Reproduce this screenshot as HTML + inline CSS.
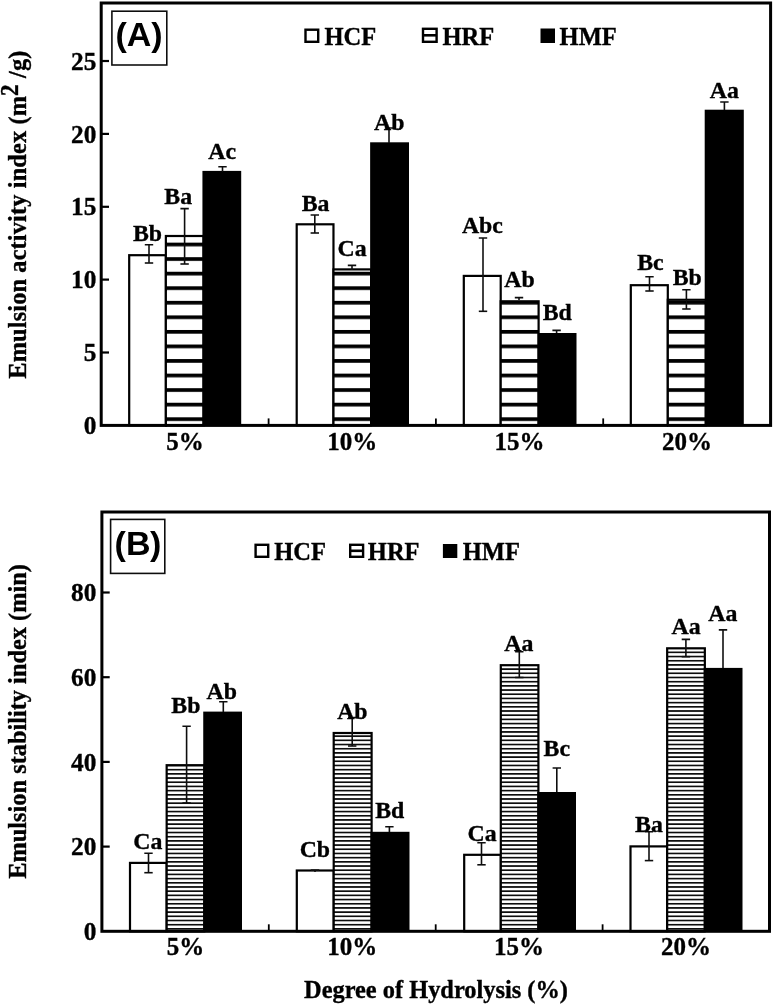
<!DOCTYPE html>
<html><head><meta charset="utf-8"><title>Emulsion indices</title>
<style>html,body{margin:0;padding:0;background:#fff}svg{display:block}text{fill:#000}</style>
</head><body>
<svg width="774" height="1005" viewBox="0 0 774 1005">
<defs>
<pattern id="pa" patternUnits="userSpaceOnUse" x="0" y="417.30" width="40" height="14.555"><rect width="40" height="14.555" fill="#fff"/><rect width="40" height="3.7" fill="#000"/></pattern>
<pattern id="pb" patternUnits="userSpaceOnUse" x="0" y="923.85" width="40" height="4.19"><rect width="40" height="4.19" fill="#fff"/><rect width="40" height="1.7" fill="#111"/></pattern>
<filter id="soft" x="0" y="0" width="100%" height="100%" filterUnits="userSpaceOnUse"><feGaussianBlur stdDeviation="0.45"/></filter>
</defs>
<g filter="url(#soft)">
<rect width="774" height="1005" fill="#fff"/>
<rect x="129.20" y="255.20" width="36.67" height="170.20" fill="#fff" stroke="#000" stroke-width="2.2"/>
<rect x="165.87" y="236.00" width="37.67" height="189.40" fill="url(#pa)" stroke="#000" stroke-width="2.2"/>
<rect x="202.43" y="170.90" width="38.77" height="254.50" fill="#000"/>
<rect x="296.70" y="224.30" width="36.77" height="201.10" fill="#fff" stroke="#000" stroke-width="2.2"/>
<rect x="333.47" y="269.40" width="37.77" height="156.00" fill="url(#pa)" stroke="#000" stroke-width="2.2"/>
<rect x="370.13" y="142.30" width="38.87" height="283.10" fill="#000"/>
<rect x="463.80" y="275.90" width="36.90" height="149.50" fill="#fff" stroke="#000" stroke-width="2.2"/>
<rect x="500.70" y="301.30" width="37.90" height="124.10" fill="url(#pa)" stroke="#000" stroke-width="2.2"/>
<rect x="537.50" y="333.00" width="39.00" height="92.40" fill="#000"/>
<rect x="630.80" y="285.20" width="37.00" height="140.20" fill="#fff" stroke="#000" stroke-width="2.2"/>
<rect x="667.80" y="299.80" width="38.00" height="125.60" fill="url(#pa)" stroke="#000" stroke-width="2.2"/>
<rect x="704.70" y="109.70" width="39.10" height="315.70" fill="#000"/>
<path d="M149.0 244.8V263.0M144.8 244.8H153.2" stroke="#111" stroke-width="1.6" fill="none"/>
<path d="M144.8 263.0H153.2" stroke="#111" stroke-width="1.6" fill="none"/>
<path d="M184.6 208.6V264.0M180.4 208.6H188.8" stroke="#111" stroke-width="1.6" fill="none"/>
<path d="M180.4 264.0H188.8" stroke="#111" stroke-width="1.6" fill="none"/>
<path d="M222.5 166.8V172.0M218.3 166.8H226.7" stroke="#111" stroke-width="1.6" fill="none"/>
<path d="M314.8 215.0V233.0M310.6 215.0H319.0" stroke="#111" stroke-width="1.6" fill="none"/>
<path d="M310.6 233.0H319.0" stroke="#111" stroke-width="1.6" fill="none"/>
<path d="M352.0 265.4V269.8M347.8 265.4H356.2" stroke="#111" stroke-width="1.6" fill="none"/>
<path d="M389.0 128.0V143.0M384.8 128.0H393.2" stroke="#111" stroke-width="1.6" fill="none"/>
<path d="M483.0 238.0V311.3M478.8 238.0H487.2" stroke="#111" stroke-width="1.6" fill="none"/>
<path d="M478.8 311.3H487.2" stroke="#111" stroke-width="1.6" fill="none"/>
<path d="M519.0 297.6V300.0M514.8 297.6H523.2" stroke="#111" stroke-width="1.6" fill="none"/>
<path d="M556.6 330.4V333.0M552.4 330.4H560.8" stroke="#111" stroke-width="1.6" fill="none"/>
<path d="M649.5 276.7V291.0M645.3 276.7H653.7" stroke="#111" stroke-width="1.6" fill="none"/>
<path d="M645.3 291.0H653.7" stroke="#111" stroke-width="1.6" fill="none"/>
<path d="M686.4 289.7V309.0M682.2 289.7H690.6" stroke="#111" stroke-width="1.6" fill="none"/>
<path d="M682.2 309.0H690.6" stroke="#111" stroke-width="1.6" fill="none"/>
<path d="M724.4 102.0V110.0M720.2 102.0H728.6" stroke="#111" stroke-width="1.6" fill="none"/>
<rect x="101.2" y="3" width="669.4" height="422.4" fill="none" stroke="#000" stroke-width="3"/>
<text x="96.3" y="434.0" font-size="25.3" text-anchor="end" font-family="Liberation Serif" font-weight="bold" stroke="#000" stroke-width="0.35" >0</text>
<path d="M101.2 352.5h7.8" stroke="#000" stroke-width="2.2"/>
<text x="96.3" y="361.1" font-size="25.3" text-anchor="end" font-family="Liberation Serif" font-weight="bold" stroke="#000" stroke-width="0.35" >5</text>
<path d="M101.2 279.6h7.8" stroke="#000" stroke-width="2.2"/>
<text x="96.3" y="288.2" font-size="25.3" text-anchor="end" font-family="Liberation Serif" font-weight="bold" stroke="#000" stroke-width="0.35" >10</text>
<path d="M101.2 206.8h7.8" stroke="#000" stroke-width="2.2"/>
<text x="96.3" y="215.4" font-size="25.3" text-anchor="end" font-family="Liberation Serif" font-weight="bold" stroke="#000" stroke-width="0.35" >15</text>
<path d="M101.2 133.9h7.8" stroke="#000" stroke-width="2.2"/>
<text x="96.3" y="142.5" font-size="25.3" text-anchor="end" font-family="Liberation Serif" font-weight="bold" stroke="#000" stroke-width="0.35" >20</text>
<path d="M101.2 61.0h7.8" stroke="#000" stroke-width="2.2"/>
<text x="96.3" y="69.6" font-size="25.3" text-anchor="end" font-family="Liberation Serif" font-weight="bold" stroke="#000" stroke-width="0.35" >25</text>
<path d="M268.6 425.4v-7" stroke="#000" stroke-width="1.8"/>
<path d="M435.9 425.4v-7" stroke="#000" stroke-width="1.8"/>
<path d="M603.2 425.4v-7" stroke="#000" stroke-width="1.8"/>
<text x="184.9" y="449.8" font-size="25" text-anchor="middle" font-family="Liberation Serif" font-weight="bold" stroke="#000" stroke-width="0.35" >5%</text>
<text x="352.2" y="449.8" font-size="25" text-anchor="middle" font-family="Liberation Serif" font-weight="bold" stroke="#000" stroke-width="0.35" >10%</text>
<text x="519.6" y="449.8" font-size="25" text-anchor="middle" font-family="Liberation Serif" font-weight="bold" stroke="#000" stroke-width="0.35" >15%</text>
<text x="686.9" y="449.8" font-size="25" text-anchor="middle" font-family="Liberation Serif" font-weight="bold" stroke="#000" stroke-width="0.35" >20%</text>
<text x="147.5" y="241.2" font-size="23.8" text-anchor="middle" font-family="Liberation Serif" font-weight="bold" stroke="#000" stroke-width="0.35" >Bb</text>
<text x="178.2" y="204.3" font-size="23.8" text-anchor="middle" font-family="Liberation Serif" font-weight="bold" stroke="#000" stroke-width="0.35" >Ba</text>
<text x="222.1" y="159.4" font-size="23.8" text-anchor="middle" font-family="Liberation Serif" font-weight="bold" stroke="#000" stroke-width="0.35" >Ac</text>
<text x="315.6" y="210.6" font-size="23.8" text-anchor="middle" font-family="Liberation Serif" font-weight="bold" stroke="#000" stroke-width="0.35" >Ba</text>
<text x="352.0" y="256.0" font-size="23.8" text-anchor="middle" font-family="Liberation Serif" font-weight="bold" stroke="#000" stroke-width="0.35" >Ca</text>
<text x="389.2" y="130.0" font-size="23.8" text-anchor="middle" font-family="Liberation Serif" font-weight="bold" stroke="#000" stroke-width="0.35" >Ab</text>
<text x="482.4" y="233.0" font-size="23.8" text-anchor="middle" font-family="Liberation Serif" font-weight="bold" stroke="#000" stroke-width="0.35" >Abc</text>
<text x="519.5" y="287.2" font-size="23.8" text-anchor="middle" font-family="Liberation Serif" font-weight="bold" stroke="#000" stroke-width="0.35" >Ab</text>
<text x="557.2" y="320.0" font-size="23.8" text-anchor="middle" font-family="Liberation Serif" font-weight="bold" stroke="#000" stroke-width="0.35" >Bd</text>
<text x="650.4" y="270.3" font-size="23.8" text-anchor="middle" font-family="Liberation Serif" font-weight="bold" stroke="#000" stroke-width="0.35" >Bc</text>
<text x="687.2" y="285.3" font-size="23.8" text-anchor="middle" font-family="Liberation Serif" font-weight="bold" stroke="#000" stroke-width="0.35" >Bb</text>
<text x="724.3" y="98.0" font-size="23.8" text-anchor="middle" font-family="Liberation Serif" font-weight="bold" stroke="#000" stroke-width="0.35" >Aa</text>
<rect x="305.5" y="29.7" width="12.699999999999966" height="12.1" fill="#fff" stroke="#000" stroke-width="2.4"/>
<text x="350.4" y="44.6" font-size="24.5" text-anchor="middle" font-family="Liberation Serif" font-weight="bold" stroke="#000" stroke-width="0.35" >HCF</text>
<rect x="423.0" y="28.8" width="13.6" height="12.999999999999998" fill="#fff" stroke="#000" stroke-width="2.4"/>
<path d="M422.8 35.3H436.8" stroke="#000" stroke-width="2.6"/>
<text x="468.4" y="44.6" font-size="24.5" text-anchor="middle" font-family="Liberation Serif" font-weight="bold" stroke="#000" stroke-width="0.35" >HRF</text>
<rect x="540.5" y="28.5" width="14.5" height="14.5" fill="#000"/>
<text x="588.2" y="44.6" font-size="24.5" text-anchor="middle" font-family="Liberation Serif" font-weight="bold" stroke="#000" stroke-width="0.35" >HMF</text>
<rect x="111.9" y="11.2" width="54.900000000000006" height="53.8" fill="#fff" stroke="#111" stroke-width="1.6"/>
<text x="121.2" y="45.9" font-size="34" text-anchor="middle" font-family="Liberation Sans" font-weight="bold">(</text>
<text x="139.1" y="45.9" font-size="34" text-anchor="middle" font-family="Liberation Sans" font-weight="bold">A</text>
<text x="156.8" y="45.9" font-size="34" text-anchor="middle" font-family="Liberation Sans" font-weight="bold">)</text>
<rect x="130.00" y="862.90" width="36.67" height="68.40" fill="#fff" stroke="#000" stroke-width="2.2"/>
<rect x="166.67" y="765.20" width="37.67" height="166.10" fill="url(#pb)" stroke="#000" stroke-width="2.2"/>
<rect x="203.23" y="711.60" width="38.77" height="219.70" fill="#000"/>
<rect x="296.80" y="870.50" width="36.90" height="60.80" fill="#fff" stroke="#000" stroke-width="2.2"/>
<rect x="333.70" y="733.00" width="37.90" height="198.30" fill="url(#pb)" stroke="#000" stroke-width="2.2"/>
<rect x="370.50" y="831.80" width="39.00" height="99.50" fill="#000"/>
<rect x="464.20" y="854.80" width="36.60" height="76.50" fill="#fff" stroke="#000" stroke-width="2.2"/>
<rect x="500.80" y="665.20" width="37.60" height="266.10" fill="url(#pb)" stroke="#000" stroke-width="2.2"/>
<rect x="537.30" y="792.00" width="38.70" height="139.30" fill="#000"/>
<rect x="630.50" y="846.40" width="36.67" height="84.90" fill="#fff" stroke="#000" stroke-width="2.2"/>
<rect x="667.17" y="648.30" width="37.67" height="283.00" fill="url(#pb)" stroke="#000" stroke-width="2.2"/>
<rect x="703.73" y="667.90" width="38.77" height="263.40" fill="#000"/>
<path d="M148.5 853.3V872.7M144.3 853.3H152.7" stroke="#111" stroke-width="1.6" fill="none"/>
<path d="M144.3 872.7H152.7" stroke="#111" stroke-width="1.6" fill="none"/>
<path d="M186.6 726.2V803.0M182.4 726.2H190.8" stroke="#111" stroke-width="1.6" fill="none"/>
<path d="M182.4 803.0H190.8" stroke="#111" stroke-width="1.6" fill="none"/>
<path d="M223.3 701.7V712.0M219.1 701.7H227.5" stroke="#111" stroke-width="1.6" fill="none"/>
<path d="M315.0 870.0V872.0M310.8 870.0H319.2" stroke="#111" stroke-width="1.6" fill="none"/>
<path d="M352.2 717.5V746.0M348.0 717.5H356.4" stroke="#111" stroke-width="1.6" fill="none"/>
<path d="M348.0 746.0H356.4" stroke="#111" stroke-width="1.6" fill="none"/>
<path d="M389.4 826.8V832.0M385.2 826.8H393.6" stroke="#111" stroke-width="1.6" fill="none"/>
<path d="M481.5 842.8V864.8M477.3 842.8H485.7" stroke="#111" stroke-width="1.6" fill="none"/>
<path d="M477.3 864.8H485.7" stroke="#111" stroke-width="1.6" fill="none"/>
<path d="M519.3 651.7V677.5M515.1 651.7H523.5" stroke="#111" stroke-width="1.6" fill="none"/>
<path d="M515.1 677.5H523.5" stroke="#111" stroke-width="1.6" fill="none"/>
<path d="M556.8 768.0V792.0M552.6 768.0H561.0" stroke="#111" stroke-width="1.6" fill="none"/>
<path d="M649.0 831.7V860.6M644.8 831.7H653.2" stroke="#111" stroke-width="1.6" fill="none"/>
<path d="M644.8 860.6H653.2" stroke="#111" stroke-width="1.6" fill="none"/>
<path d="M685.9 639.4V656.7M681.7 639.4H690.1" stroke="#111" stroke-width="1.6" fill="none"/>
<path d="M681.7 656.7H690.1" stroke="#111" stroke-width="1.6" fill="none"/>
<path d="M723.0 629.9V668.0M718.8 629.9H727.2" stroke="#111" stroke-width="1.6" fill="none"/>
<rect x="101.9" y="512" width="667.6" height="419.29999999999995" fill="none" stroke="#000" stroke-width="3"/>
<text x="96.3" y="939.9" font-size="25.3" text-anchor="end" font-family="Liberation Serif" font-weight="bold" stroke="#000" stroke-width="0.35" >0</text>
<path d="M101.9 846.6h7.8" stroke="#000" stroke-width="2.2"/>
<text x="96.3" y="855.2" font-size="25.3" text-anchor="end" font-family="Liberation Serif" font-weight="bold" stroke="#000" stroke-width="0.35" >20</text>
<path d="M101.9 761.9h7.8" stroke="#000" stroke-width="2.2"/>
<text x="96.3" y="770.5" font-size="25.3" text-anchor="end" font-family="Liberation Serif" font-weight="bold" stroke="#000" stroke-width="0.35" >40</text>
<path d="M101.9 677.2h7.8" stroke="#000" stroke-width="2.2"/>
<text x="96.3" y="685.8" font-size="25.3" text-anchor="end" font-family="Liberation Serif" font-weight="bold" stroke="#000" stroke-width="0.35" >60</text>
<path d="M101.9 592.5h7.8" stroke="#000" stroke-width="2.2"/>
<text x="96.3" y="601.1" font-size="25.3" text-anchor="end" font-family="Liberation Serif" font-weight="bold" stroke="#000" stroke-width="0.35" >80</text>
<path d="M268.8 931.3v-7" stroke="#000" stroke-width="1.8"/>
<path d="M435.7 931.3v-7" stroke="#000" stroke-width="1.8"/>
<path d="M602.6 931.3v-7" stroke="#000" stroke-width="1.8"/>
<text x="185.4" y="955.0" font-size="25" text-anchor="middle" font-family="Liberation Serif" font-weight="bold" stroke="#000" stroke-width="0.35" >5%</text>
<text x="352.2" y="955.0" font-size="25" text-anchor="middle" font-family="Liberation Serif" font-weight="bold" stroke="#000" stroke-width="0.35" >10%</text>
<text x="519.1" y="955.0" font-size="25" text-anchor="middle" font-family="Liberation Serif" font-weight="bold" stroke="#000" stroke-width="0.35" >15%</text>
<text x="686.0" y="955.0" font-size="25" text-anchor="middle" font-family="Liberation Serif" font-weight="bold" stroke="#000" stroke-width="0.35" >20%</text>
<text x="147.8" y="849.4" font-size="23.8" text-anchor="middle" font-family="Liberation Serif" font-weight="bold" stroke="#000" stroke-width="0.35" >Ca</text>
<text x="185.9" y="713.3" font-size="23.8" text-anchor="middle" font-family="Liberation Serif" font-weight="bold" stroke="#000" stroke-width="0.35" >Bb</text>
<text x="221.8" y="699.0" font-size="23.8" text-anchor="middle" font-family="Liberation Serif" font-weight="bold" stroke="#000" stroke-width="0.35" >Ab</text>
<text x="314.9" y="857.0" font-size="23.8" text-anchor="middle" font-family="Liberation Serif" font-weight="bold" stroke="#000" stroke-width="0.35" >Cb</text>
<text x="352.4" y="718.8" font-size="23.8" text-anchor="middle" font-family="Liberation Serif" font-weight="bold" stroke="#000" stroke-width="0.35" >Ab</text>
<text x="389.8" y="818.2" font-size="23.8" text-anchor="middle" font-family="Liberation Serif" font-weight="bold" stroke="#000" stroke-width="0.35" >Bd</text>
<text x="482.0" y="841.2" font-size="23.8" text-anchor="middle" font-family="Liberation Serif" font-weight="bold" stroke="#000" stroke-width="0.35" >Ca</text>
<text x="518.8" y="651.0" font-size="23.8" text-anchor="middle" font-family="Liberation Serif" font-weight="bold" stroke="#000" stroke-width="0.35" >Aa</text>
<text x="556.8" y="756.3" font-size="23.8" text-anchor="middle" font-family="Liberation Serif" font-weight="bold" stroke="#000" stroke-width="0.35" >Bc</text>
<text x="649.0" y="831.7" font-size="23.8" text-anchor="middle" font-family="Liberation Serif" font-weight="bold" stroke="#000" stroke-width="0.35" >Ba</text>
<text x="686.0" y="634.3" font-size="23.8" text-anchor="middle" font-family="Liberation Serif" font-weight="bold" stroke="#000" stroke-width="0.35" >Aa</text>
<text x="722.9" y="621.3" font-size="23.8" text-anchor="middle" font-family="Liberation Serif" font-weight="bold" stroke="#000" stroke-width="0.35" >Aa</text>
<rect x="255.6" y="544.8000000000001" width="12.599999999999971" height="11.999999999999977" fill="#fff" stroke="#000" stroke-width="2.4"/>
<text x="300.1" y="559.8" font-size="24.5" text-anchor="middle" font-family="Liberation Serif" font-weight="bold" stroke="#000" stroke-width="0.35" >HCF</text>
<rect x="350.2" y="544.8000000000001" width="12.900000000000011" height="11.999999999999977" fill="#fff" stroke="#000" stroke-width="2.4"/>
<path d="M350 550.8H363.3" stroke="#000" stroke-width="2.6"/>
<text x="393.7" y="559.8" font-size="24.5" text-anchor="middle" font-family="Liberation Serif" font-weight="bold" stroke="#000" stroke-width="0.35" >HRF</text>
<rect x="442.9" y="544" width="14.400000000000034" height="14" fill="#000"/>
<text x="491.4" y="559.8" font-size="24.5" text-anchor="middle" font-family="Liberation Serif" font-weight="bold" stroke="#000" stroke-width="0.35" >HMF</text>
<rect x="110.6" y="519.4" width="54.20000000000002" height="54.0" fill="#fff" stroke="#111" stroke-width="1.6"/>
<text x="120.1" y="555" font-size="34" text-anchor="middle" font-family="Liberation Sans" font-weight="bold">(</text>
<text x="138.2" y="555" font-size="34" text-anchor="middle" font-family="Liberation Sans" font-weight="bold">B</text>
<text x="155.6" y="555" font-size="34" text-anchor="middle" font-family="Liberation Sans" font-weight="bold">)</text>
<text transform="translate(25.5,378.7) rotate(-90) scale(1,1.05)" font-size="24.3" font-family="Liberation Serif" font-weight="bold" stroke="#000" stroke-width="0.35" textLength="328" lengthAdjust="spacing">Emulsion activity index (m<tspan font-size="23" dy="-7.5">2</tspan><tspan dy="7.5"> /g)</tspan></text>
<text transform="translate(25.5,878.7) rotate(-90) scale(1,1.05)" font-size="24.3" font-family="Liberation Serif" font-weight="bold" stroke="#000" stroke-width="0.35" textLength="314.5" lengthAdjust="spacing">Emulsion stability index (min)</text>
<text x="436.0" y="997.5" font-size="24.4" text-anchor="middle" font-family="Liberation Serif" font-weight="bold" stroke="#000" stroke-width="0.35" >Degree of Hydrolysis (%)</text>
</g>
</svg>
</body></html>
